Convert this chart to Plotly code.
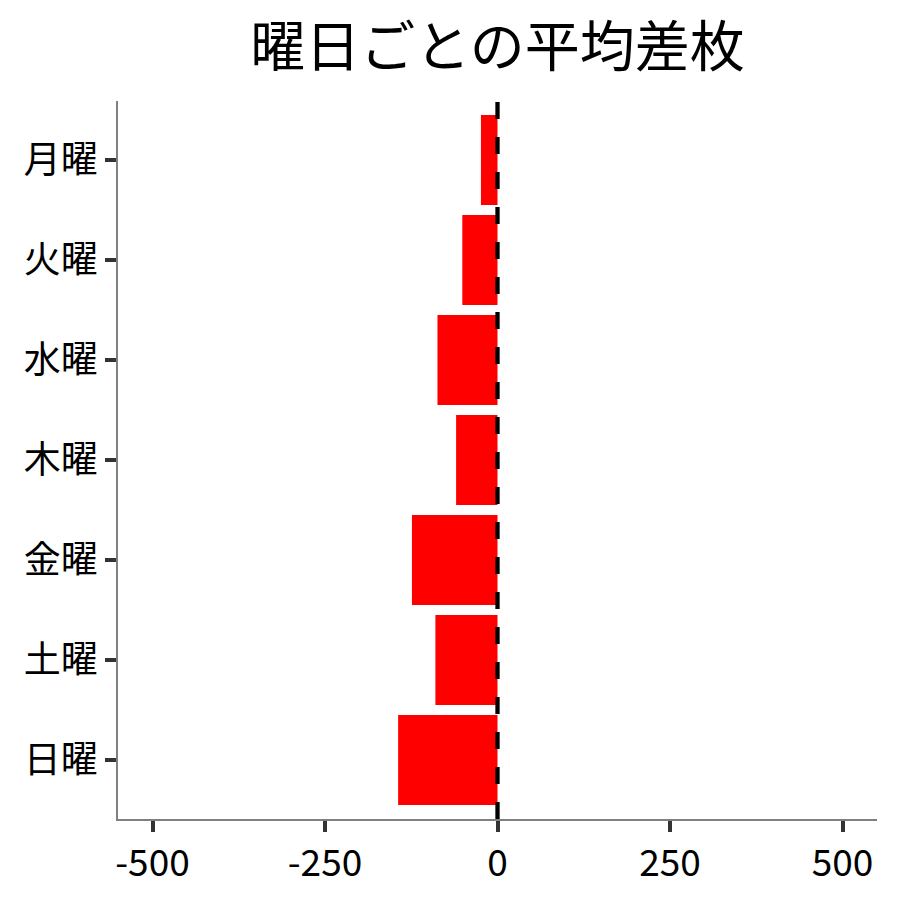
import plotly.graph_objects as go

# 曜日ごとの平均差枚
days = ["月曜", "火曜", "水曜", "木曜", "金曜", "土曜", "日曜"]
avg_diff = [-24, -51, -87, -60, -124, -90, -144]
x_ticks = [-500, -250, 0, 250, 500]

font_jp = "Noto Sans CJK JP"

fig = go.Figure()
fig.add_trace(go.Bar(
    x=avg_diff,
    y=days,
    orientation="h",
    width=0.9,
    marker_color="#ff0000",
    marker_line_width=0,
    showlegend=False
))

# zero line (dashed)
fig.add_shape(type="line", xref="x", yref="paper",
              x0=0, x1=0, y0=0, y1=1,
              line=dict(color="black", width=4.3, dash="17px,18px"))

# page body adds 8px offset, so figure is 892 to fill the 900 window
fig.update_layout(
    width=892, height=892,
    paper_bgcolor="white", plot_bgcolor="white",
    margin=dict(l=110, r=23, t=93, b=81),
    font=dict(family=font_jp, color="black"),
    title=dict(text="曜日ごとの平均差枚", x=0.5, xref="paper",
               y=0.957, yanchor="middle", xanchor="center",
               font=dict(size=55, family=font_jp, color="black")),
    bargap=0.1,
)
fig.update_xaxes(
    range=[-550, 550], tickvals=x_ticks, ticktext=[str(v) for v in x_ticks],
    showgrid=False, zeroline=False,
    showline=True, linecolor="#808080", linewidth=1.5,
    ticks="outside", ticklen=11, tickwidth=4, tickcolor="#333333",
    tickfont=dict(size=37, family=font_jp, color="black"),
)
fig.update_yaxes(
    type="category", categoryorder="array", categoryarray=days,
    range=[6.59, -0.59],
    showgrid=False, zeroline=False,
    showline=True, linecolor="#808080", linewidth=1.5,
    ticks="outside", ticklen=11, tickwidth=4, tickcolor="#333333",
    tickfont=dict(size=37, family=font_jp, color="black"),
)

fig.write_html("out.html")
